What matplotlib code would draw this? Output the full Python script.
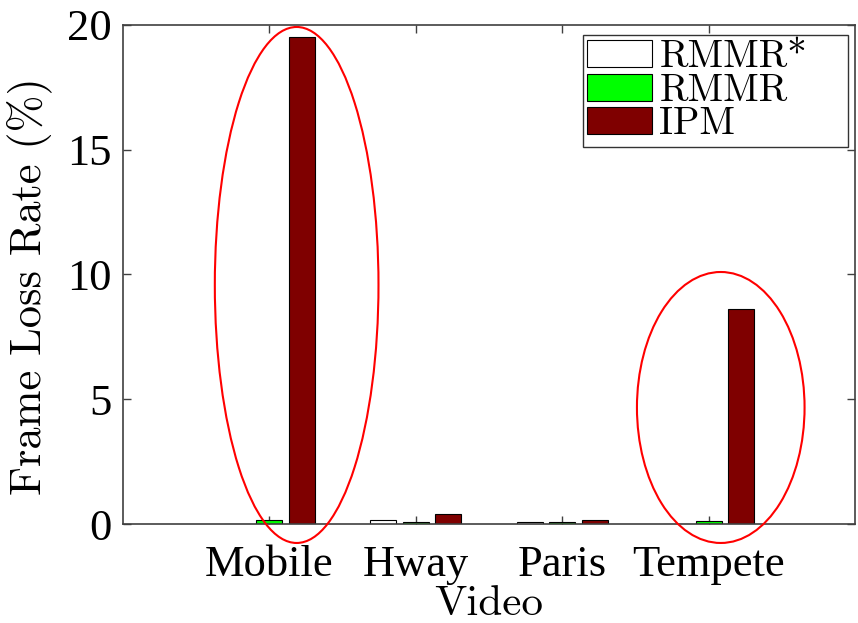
import numpy as np
import matplotlib
matplotlib.use('Agg')
import matplotlib.pyplot as plt
from matplotlib.patches import Ellipse

# frame loss rate per video, three schemes
videos = ['Mobile', 'Hway', 'Paris', 'Tempete']
rmmr_star = [0.02, 0.17, 0.08, 0.02]
rmmr = [0.17, 0.09, 0.08, 0.12]
ipm = [19.5, 0.39, 0.17, 8.6]

series = [('RMMR*', rmmr_star, 'white'),
          ('RMMR', rmmr, '#00ff00'),
          ('IPM', ipm, '#7f0000')]

x = np.arange(1, len(videos) + 1)
step = 0.222
width = 0.178

fig = plt.figure(figsize=(8.58, 6.23), dpi=100)
ax = fig.add_axes([0.1434, 0.1589, 0.8531, 0.8010])

for i, (name, vals, col) in enumerate(series):
    ax.bar(x + (i - 1) * step, vals, width, color=col, edgecolor='black',
           linewidth=0.8, label=name, zorder=2)

ax.set_xlim(0, 5)
ax.set_ylim(0, 20)
ax.set_xticks(x)
ax.set_xticklabels(videos, family='Liberation Serif', fontsize=32)
ax.set_yticks([0, 5, 10, 15, 20])
ax.set_yticklabels(['0', '5', '10', '15', '20'], family='Liberation Serif', fontsize=32)
ax.tick_params(direction='in', length=6, width=1, top=True, right=True,
               color='#404040')
ax.tick_params(axis='x', pad=15)
ax.tick_params(axis='y', pad=8)
for sp in ax.spines.values():
    sp.set_color('#404040')
    sp.set_linewidth(1.2)

ax.set_xlabel('Video', family='cmr10', fontsize=31)
ax.xaxis.set_label_coords(0.5, -0.124)
ax.set_ylabel('Frame Loss Rate (%)', family='cmr10', fontsize=32)
ax.yaxis.set_label_coords(-0.097, 0.477)

# red ellipses highlighting the IPM losses
ax.add_patch(Ellipse((1.186, 9.58), 1.118, 20.68, fill=False, edgecolor='red',
                     linewidth=1.5, clip_on=False, zorder=3))
ax.add_patch(Ellipse((4.083, 4.67), 1.145, 10.86, fill=False, edgecolor='red',
                     linewidth=1.5, clip_on=False, zorder=3))

leg = ax.legend(loc='upper left', bbox_to_anchor=(0.628, 0.76, 0.362, 0.22),
                mode='expand', prop={'family': 'cmr10', 'size': 28},
                frameon=True, fancybox=False, edgecolor='black',
                labelspacing=-0.06, handlelength=1.65, handleheight=0.69,
                handletextpad=0.2, borderpad=0.12, borderaxespad=0.0)
leg.get_frame().set_linewidth(1.0)

fig.savefig('out.png', dpi=100)
